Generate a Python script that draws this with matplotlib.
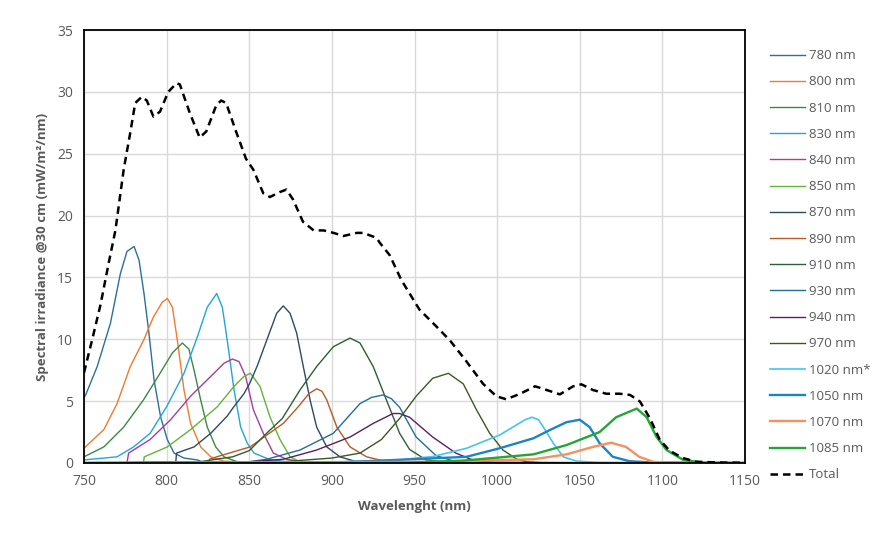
import matplotlib
matplotlib.use("Agg")
import matplotlib.pyplot as plt

plt.rcParams['font.family'] = ['Open Sans', 'DejaVu Sans']

# --- data (wavelength nm, irradiance mW/m2/nm) ---
wl_780 = [750, 751, 758, 766, 772, 776, 780.3, 783.3, 786.3, 789.3, 792.4, 796.4, 800.4, 804.5,
          810.5, 818.6, 823, 1150]
val_780 = [5.3, 5.5, 7.8, 11.3, 15.3, 17.1, 17.5, 16.4, 13.7, 10.5, 6.7, 3.7, 1.9, 0.8,
           0.4, 0.25, 0, 0]

wl_800 = [750, 762, 770, 778, 786, 792, 797.4, 800.4, 803.5, 806.5, 810.5, 814.5, 820.6, 826.7,
          834.7, 850, 860, 1150]
val_800 = [1.2, 2.7, 4.8, 7.8, 9.9, 11.8, 13.0, 13.3, 12.6, 9.9, 5.9, 3.2, 1.3, 0.5,
           0.15, 0.05, 0, 0]

wl_810 = [750, 762, 774, 786, 796, 803.5, 809.5, 813.5, 816.6, 820.6, 824.6, 829.7, 834.7, 842.8,
          860, 1150]
val_810 = [0.5, 1.3, 2.9, 5.1, 7.25, 8.9, 9.7, 9.2, 7.5, 5.1, 2.9, 1.3, 0.5, 0.1, 0, 0]

wl_830 = [750, 770, 780, 790, 800, 810.5, 818.6, 824.6, 830.3, 833.7, 836.7, 840.8, 844.8, 848.8,
          852.9, 862, 875, 1150]
val_830 = [0.25, 0.5, 1.3, 2.4, 4.55, 7.25, 10.2, 12.6, 13.7, 12.6, 9.9, 5.9, 2.9, 1.6,
           0.8, 0.3, 0.05, 0]

wl_840 = [750, 776, 777, 790, 802.4, 814.5, 826.7, 834.7, 839.8, 843.8, 847.8, 852.5, 858.5,
          864.6, 872.6, 885, 1150]
val_840 = [0, 0, 0.8, 1.9, 3.5, 5.4, 7.0, 8.06, 8.4, 8.2, 7.0, 4.3, 2.4, 0.8, 0.3, 0.05, 0]

wl_850 = [750, 785.9, 786.5, 800.4, 814.5, 830.7, 840.8, 846.8, 850.7, 856.5, 862.6, 868.6,
          874.7, 880.7, 1150]
val_850 = [0, 0, 0.5, 1.3, 2.7, 4.55, 6.2, 7.0, 7.25, 6.2, 3.7, 1.9, 0.5, 0.1, 0]

wl_870 = [750, 805.5, 806, 816.6, 826.7, 836.7, 840.4, 846.8, 850.5, 855, 860.5, 866.6, 870.6,
          874.7, 878.7, 882.7, 886.8, 890.8, 896.9, 904.9, 915, 925, 1150]
val_870 = [0, 0, 0.8, 1.3, 2.4, 3.8, 4.5, 5.6, 6.5, 7.9, 9.9, 12.1, 12.7,
           12.1, 10.5, 7.8, 5.1, 2.9, 1.3, 0.5, 0.1, 0, 0]

wl_890 = [750, 825.5, 826, 830.3, 850.5, 870.6, 880, 886, 890.8, 894, 896.9, 903, 911, 921,
          935, 1150]
val_890 = [0, 0, 0.3, 0.5, 1.3, 3.2, 4.6, 5.6, 6.0, 5.8, 5.1, 2.9, 1.3, 0.5, 0.05, 0]

wl_910 = [750, 820, 840, 850, 860.5, 870, 880.7, 890.8, 900.9, 911, 917, 925, 933, 941, 947,
          957, 970, 1150]
val_910 = [0, 0.1, 0.5, 1.0, 2.4, 3.6, 5.9, 7.8, 9.4, 10.1, 9.7, 7.8, 5.1, 2.4, 1.1,
           0.25, 0.05, 0]

wl_930 = [750, 850, 860.5, 880.7, 900.9, 917, 924, 931, 936, 941, 951, 963, 975, 990, 1150]
val_930 = [0, 0.1, 0.3, 1.05, 2.4, 4.8, 5.3, 5.5, 5.2, 4.5, 2.1, 0.6, 0.1, 0, 0]

wl_940 = [750, 850, 870.6, 890.8, 911, 925, 937, 941, 947, 961, 975, 986, 1000, 1150]
val_940 = [0, 0.1, 0.3, 1.05, 2.1, 3.2, 4.0, 4.0, 3.7, 2.1, 0.8, 0.2, 0, 0]

wl_970 = [750, 870, 900, 917, 930, 941, 951, 961, 970.5, 979.5, 987.5, 995.5, 1003.5, 1012,
          1018, 1030, 1150]
val_970 = [0, 0.1, 0.4, 0.8, 1.9, 3.6, 5.4, 6.85, 7.25, 6.4, 4.3, 2.4, 1.05, 0.3,
           0.1, 0, 0]

wl_1020 = [750, 905, 941, 961, 981.5, 1001.5, 1012, 1017, 1021, 1025, 1028, 1034, 1040, 1048,
           1062, 1150]
val_1020 = [0, 0.1, 0.26, 0.52, 1.19, 2.26, 3.1, 3.5, 3.7, 3.5, 2.9, 1.6, 0.5, 0.15, 0.05, 0]

wl_1050 = [750, 905, 965, 981.5, 1001.5, 1022, 1032, 1042, 1050, 1056, 1062, 1070, 1080,
           1092, 1150]
val_1050 = [0, 0.05, 0.4, 0.5, 1.19, 2.0, 2.67, 3.3, 3.5, 2.9, 1.6, 0.5, 0.15, 0.05, 0]

wl_1070 = [750, 965, 1006, 1022, 1042, 1058, 1069, 1078, 1086, 1094.5, 1105, 1150]
val_1070 = [0, 0.1, 0.25, 0.3, 0.7, 1.3, 1.64, 1.3, 0.5, 0.1, 0, 0]

wl_1085 = [750, 945, 980, 1001.5, 1022, 1042, 1062, 1072, 1084.5, 1090.5, 1096.5, 1102.5,
           1112.5, 1125, 1150]
val_1085 = [0, 0.02, 0.2, 0.45, 0.7, 1.45, 2.5, 3.7, 4.4, 3.7, 2.1, 1.05, 0.26, 0.02, 0]

wl_total = [750, 755, 760, 765, 769, 774, 778, 781, 785, 788, 792, 796, 801, 806, 808,
            814, 820, 824, 830, 833, 836, 842, 848, 852.5, 858.5, 862.5, 868.5, 872.5,
            876.5, 882.5, 889, 895, 901, 907, 915, 919, 927, 929, 935, 942, 953, 963.5,
            971.5, 981.5, 991.5, 999.5, 1005.5, 1014, 1023, 1030, 1038, 1046, 1051, 1058,
            1066, 1074, 1080.5, 1086.5, 1092.5, 1098.5, 1104.5, 1112.5, 1120.5, 1135, 1150]
val_total = [7.3, 10.0, 12.8, 16.2, 18.8, 23.7, 26.7, 29.1, 29.6, 29.3, 28.0, 28.4, 30.0, 30.7, 30.6,
             28.3, 26.3, 26.8, 28.9, 29.3, 29.1, 26.8, 24.6, 23.7, 21.8, 21.5, 21.9, 22.1,
             21.3, 19.5, 18.8, 18.8, 18.6, 18.35, 18.6, 18.6, 18.2, 17.8, 16.8, 14.8, 12.4, 11.0,
             9.9, 8.2, 6.4, 5.4, 5.15, 5.6, 6.2, 5.9, 5.55, 6.2, 6.36, 5.9,
             5.6, 5.6, 5.5, 4.96, 3.6, 1.86, 0.98, 0.4, 0.1, 0.04, 0.02]

series = [
    ("780 nm", wl_780, val_780, "#2b6f9e", 1.0),
    ("800 nm", wl_800, val_800, "#f07a30", 1.0),
    ("810 nm", wl_810, val_810, "#3a8a45", 1.0),
    ("830 nm", wl_830, val_830, "#22a5dd", 1.0),
    ("840 nm", wl_840, val_840, "#a33ea3", 1.0),
    ("850 nm", wl_850, val_850, "#62b43a", 1.0),
    ("870 nm", wl_870, val_870, "#2c4a66", 1.0),
    ("890 nm", wl_890, val_890, "#b85a25", 1.0),
    ("910 nm", wl_910, val_910, "#2f5e36", 1.0),
    ("930 nm", wl_930, val_930, "#1f6f98", 1.0),
    ("940 nm", wl_940, val_940, "#5c1f5c", 1.0),
    ("970 nm", wl_970, val_970, "#3b5a22", 1.0),
    ("1020 nm*", wl_1020, val_1020, "#45c3f2", 1.2),
    ("1050 nm", wl_1050, val_1050, "#1b84c6", 1.7),
    ("1070 nm", wl_1070, val_1070, "#f4915c", 1.7),
    ("1085 nm", wl_1085, val_1085, "#22a635", 1.7),
]

fig = plt.figure(figsize=(8.86, 5.35), dpi=100)
ax = fig.add_axes([84 / 886, 1 - 463 / 535, (745 - 84) / 886, (463 - 30) / 535])

for name, x, y, color, lw in series:
    ax.plot(x, y, color=color, lw=lw, label=name)
ax.plot(wl_total, val_total, color="black", lw=1.8, ls=(0, (3, 2)), label="Total")

ax.set_xlim(750, 1150)
ax.set_ylim(0, 35)
ax.set_xticks(range(750, 1151, 50))
ax.set_yticks(range(0, 36, 5))
ax.grid(True, color="#d9d9d9", lw=1.0)
ax.set_axisbelow(True)
ax.tick_params(length=0, labelsize=10, labelcolor="#595959", pad=8)
for s in ax.spines.values():
    s.set_color("black")
    s.set_linewidth(1.3)

ax.set_xlabel("Wavelenght (nm)", fontsize=9.5, fontweight="bold", color="#595959", labelpad=8)
ax.set_ylabel("Spectral irradiance @30 cm (mW/m²/nm)", fontsize=9.5, fontweight="bold",
              color="#595959", labelpad=6)

fig.legend(loc="upper left", bbox_to_anchor=(765 / 886, 1 - 44 / 535), frameon=False,
           fontsize=9.5, handlelength=2.65, handletextpad=0.25, labelspacing=1.0,
           labelcolor="#595959", borderaxespad=0)

fig.savefig("out.png", dpi=100)
